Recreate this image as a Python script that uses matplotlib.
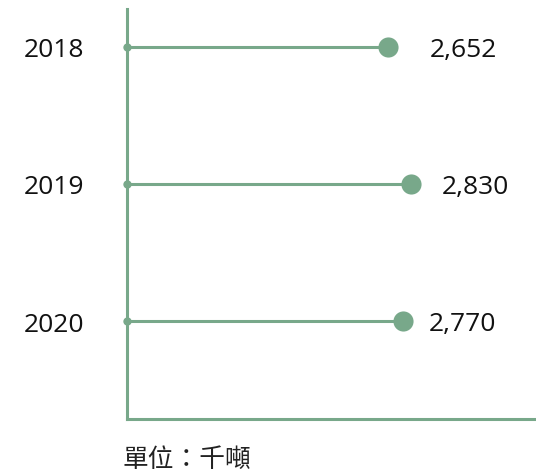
import matplotlib
matplotlib.use("Agg")
import matplotlib.pyplot as plt

years = ["2018", "2019", "2020"]
values = [2652, 2830, 2770]
value_labels = ["2,652", "2,830", "2,770"]
unit_text = "單位：千噸"

plt.rcParams['font.family'] = ['Open Sans', 'Noto Sans CJK TC', 'DejaVu Sans']

color = '#78A88A'
DPI = 100
fig = plt.figure(figsize=(5.36, 4.77), dpi=DPI)
ax = fig.add_axes([127/536, 1 - 420/477, 1 - 127/536, (420 - 10)/477])

xmin, xmax = 660, 3782
ax.set_xlim(xmin, xmax)
ax.set_ylim(2.715, -0.277)

ypos = list(range(len(years)))
ax.hlines(ypos, xmin, values, color=color, lw=2.2, zorder=2)
ax.scatter(values, ypos, s=14.5**2, color=color, zorder=3, linewidths=0)
ax.scatter([xmin]*len(ypos), ypos, s=6**2, color=color, zorder=4, linewidths=0, clip_on=False)

label_offsets_px = [42, 30, 25]
for y, v, lab, off in zip(ypos, values, value_labels, label_offsets_px):
    ax.annotate(lab, xy=(v, y), xytext=(off * 72 / DPI, -1.5), textcoords='offset points',
                ha='left', va='center', fontsize=19, color='#111111')

ax.set_yticks(ypos)
ax.set_yticklabels(years, fontsize=19, color='#111111')
ax.tick_params(axis='y', length=0, pad=43 * 72 / DPI)
ax.set_xticks([])

for s in ['top', 'right']:
    ax.spines[s].set_visible(False)
for s in ['left', 'bottom']:
    ax.spines[s].set_color(color)
    ax.spines[s].set_linewidth(2.2)

fig.text(123/536, 1 - 460/477, unit_text, ha='left', va='center', fontsize=18.5,
         color='#222222', family=['Noto Sans CJK TC', 'DejaVu Sans'])

fig.savefig('out.png', dpi=DPI)
